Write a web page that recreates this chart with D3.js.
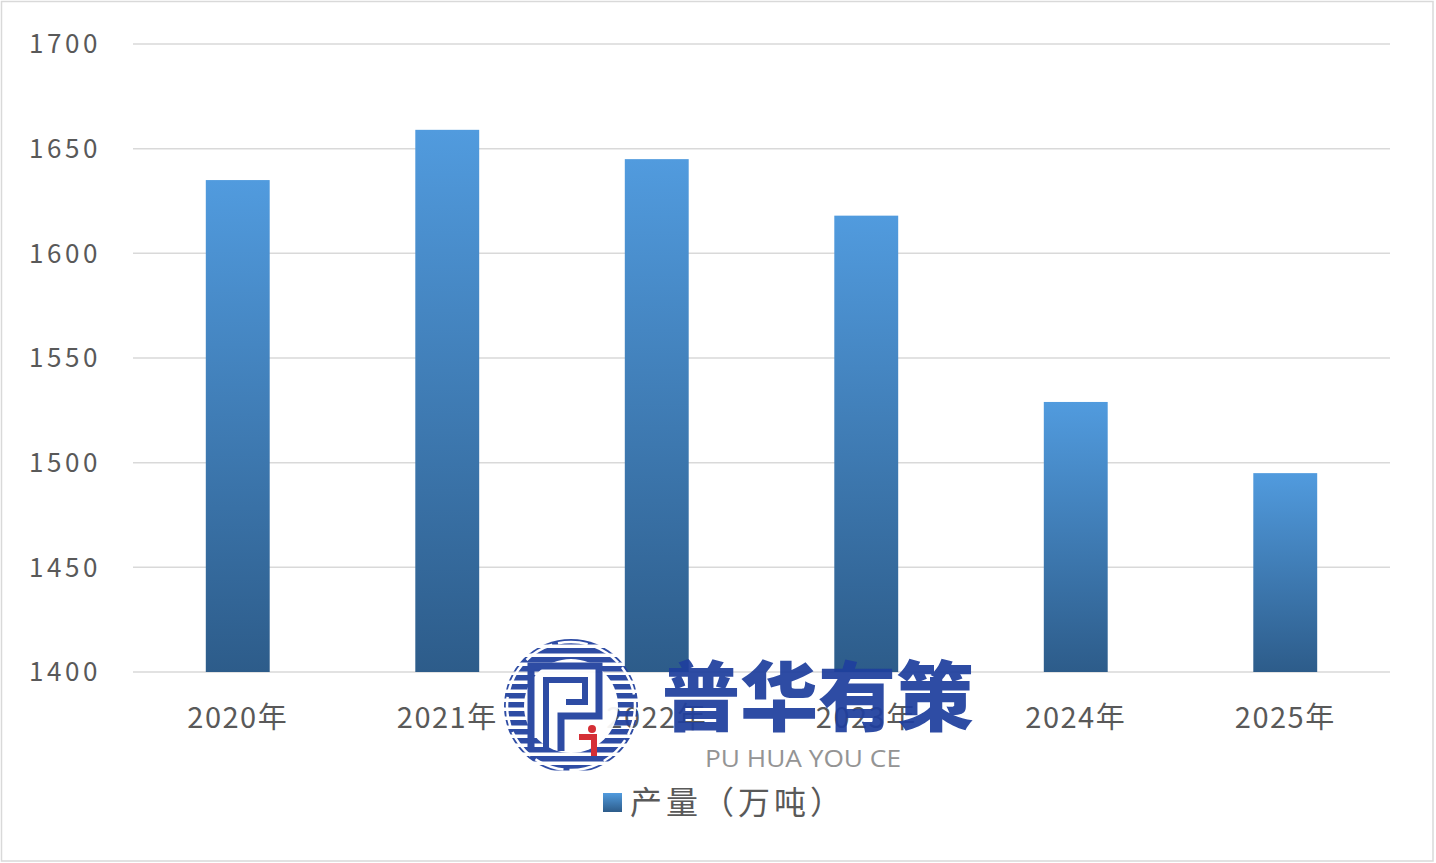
<!DOCTYPE html>
<html><head><meta charset="utf-8">
<script src="https://cdn.jsdelivr.net/npm/d3@7/dist/d3.min.js"></script>
<style>html,body{margin:0;padding:0;background:#fff;overflow:hidden}</style>
</head><body>
<svg id="c" width="1436" height="863"></svg>
<script>
const categories = ["2020年","2021年","2022年","2023年","2024年","2025年"];
const values = [1635, 1659, 1645, 1618, 1529, 1495];
const yTicks = [1400,1450,1500,1550,1600,1650,1700];
const seriesName = "产量（万吨）";

const svg = d3.select("#c");
const W = 1436, H = 863;
const font = "'Noto Sans CJK SC','Microsoft YaHei',sans-serif";
svg.append("rect").attr("x",1.5).attr("y",1.5).attr("width",W-4.5).attr("height",H-3.5)
  .attr("fill","#fff").attr("stroke","#d9d9d9").attr("stroke-width",1.5);

const defs = svg.append("defs");
const g1 = defs.append("linearGradient").attr("id","barg").attr("x1",0).attr("y1",0).attr("x2",0).attr("y2",1);
g1.append("stop").attr("offset","0%").attr("stop-color","#519bde");
g1.append("stop").attr("offset","100%").attr("stop-color","#2d5c8a");

const x = d3.scaleBand().domain(categories).range([133,1390]).paddingInner(0.695).paddingOuter(0.3475);
const y = d3.scaleLinear().domain([1400,1700]).range([672,44]);

// gridlines
svg.append("g").selectAll("line").data(yTicks).join("line")
  .attr("x1",133).attr("x2",1390).attr("y1",d=>y(d)).attr("y2",d=>y(d))
  .attr("stroke","#d9d9d9").attr("stroke-width",1.5);

// y axis labels
const yAxis = d3.axisLeft(y).tickValues(yTicks).tickSize(0).tickPadding(0).tickFormat(d3.format("d"));
const ya = svg.append("g").attr("transform","translate(101,0)").call(yAxis);
ya.select(".domain").remove();
ya.selectAll("text").attr("font-family",font).attr("font-size",26).attr("letter-spacing",3.6)
  .attr("fill","#595959").attr("dy","0.34em");

// bars
svg.append("g").selectAll("rect").data(values).join("rect")
  .attr("x",(d,i)=>x(categories[i])).attr("width",x.bandwidth())
  .attr("y",d=>y(d)).attr("height",d=>y(1400)-y(d))
  .attr("fill","url(#barg)");

// x axis labels
const xAxis = d3.axisBottom(x).tickSize(0).tickPadding(0);
const xa = svg.append("g").attr("transform","translate(0,718)").call(xAxis);
xa.select(".domain").remove();
xa.selectAll("text").attr("font-family",font).attr("font-size",29).attr("letter-spacing",1.5)
  .attr("fill","#595959").attr("dy","0.35em");

// legend
const lg = svg.append("g").attr("transform","translate(603,793)");
lg.append("rect").attr("x",0).attr("y",0).attr("width",19).attr("height",19).attr("fill","url(#barg)");
lg.append("text").attr("x",27).attr("y",9).attr("dy","0.36em").attr("font-family",font).attr("font-size",32)
  .attr("letter-spacing",4).attr("fill","#595959").text(seriesName);

// watermark
const wm = svg.append("g").attr("opacity",0.93);
const cx = 571, cy = 706, r = 67;
const clip = defs.append("clipPath").attr("id","lc");
clip.append("circle").attr("cx",cx).attr("cy",cy).attr("r",r);
const stripes = wm.append("g").attr("clip-path","url(#lc)");
d3.range(cy-r, cy+r, 9).forEach(yy=>{
  stripes.append("rect").attr("x",cx-r).attr("y",yy).attr("width",2*r).attr("height",5.5).attr("fill","#1f3f9e");
});
wm.append("circle").attr("cx",cx).attr("cy",cy).attr("r",r-3).attr("fill","none").attr("stroke","#fff").attr("stroke-width",2.5).attr("stroke-dasharray","30 6");
wm.append("circle").attr("cx",cx).attr("cy",cy).attr("r",r-20).attr("fill","#fff");
wm.append("path").attr("d",`M${cx-40},${cy+45} L${cx-40},${cy-40} L${cx+28},${cy-40} L${cx+28},${cy+10} L${cx-10},${cy+10} L${cx-10},${cy+45}`)
  .attr("fill","none").attr("stroke","#1f3f9e").attr("stroke-width",7);
wm.append("path").attr("d",`M${cx-25},${cy+45} L${cx-25},${cy-26} L${cx+14},${cy-26} L${cx+14},${cy-4} L${cx-5},${cy-4}`)
  .attr("fill","none").attr("stroke","#1f3f9e").attr("stroke-width",6);
wm.append("circle").attr("cx",cx+21).attr("cy",cy+23).attr("r",4).attr("fill","#d22027");
wm.append("path").attr("d",`M${cx+8},${cy+31} L${cx+23},${cy+31} L${cx+23},${cy+50}`).attr("fill","none").attr("stroke","#d22027").attr("stroke-width",6);
wm.append("text").attr("x",818).attr("y",698).attr("dy","0.36em").attr("text-anchor","middle")
  .attr("font-family","'Noto Sans CJK SC',sans-serif").attr("font-weight",900).attr("font-size",76)
  .attr("fill","#1f3f9e").attr("textLength",312).attr("lengthAdjust","spacingAndGlyphs").text("普华有策");
wm.append("text").attr("x",803).attr("y",759).attr("dy","0.36em").attr("text-anchor","middle")
  .attr("font-family","'Open Sans',sans-serif").attr("font-size",23).attr("fill","#8c8c8c")
  .attr("textLength",196).attr("lengthAdjust","spacingAndGlyphs").text("PU HUA YOU CE");
</script>
</body></html>
